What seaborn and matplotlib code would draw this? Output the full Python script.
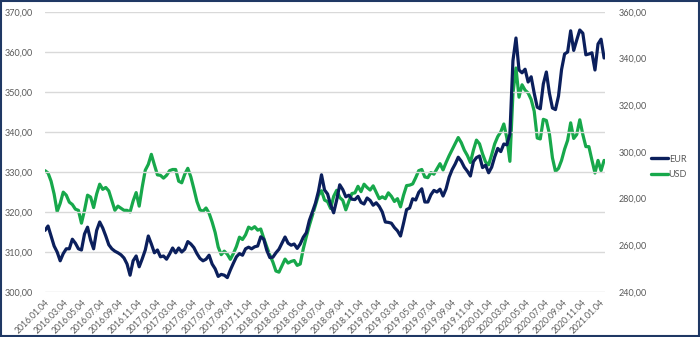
import numpy as np
import pandas as pd
import matplotlib
matplotlib.use("Agg")
import matplotlib.pyplot as plt
import matplotlib.patches as mpatches
from matplotlib.lines import Line2D
from matplotlib.ticker import FuncFormatter, MultipleLocator
import seaborn as sns

# Ten-day observations starting 2016-01-04
start_date = "2016-01-04"
n_obs = 185

eur = [
    315.4, 316.5, 314.0, 311.5, 310.0, 307.8, 309.6, 310.8, 310.8, 313.2,
    312.2, 310.8, 310.5, 314.5, 316.2, 313.0, 310.8, 315.4, 317.5, 316.0,
    314.0, 311.8, 310.8, 310.2, 309.8, 309.3, 308.5, 307.0, 304.2, 307.8,
    309.0, 306.3, 308.3, 310.5, 314.0, 312.0, 309.8, 310.5, 308.8, 309.0,
    308.2, 309.5, 311.0, 309.8, 311.0, 310.0, 310.7, 312.6, 312.0, 311.1,
    309.6, 308.4, 307.8, 308.2, 309.2, 307.0, 305.8, 303.9, 304.4, 304.2,
    303.6, 305.5, 307.2, 308.8, 309.6, 309.2, 310.8, 311.2, 310.8, 311.3,
    311.5, 313.8, 313.2, 310.4, 308.6, 308.7, 309.8, 310.7, 312.2, 313.75,
    312.2, 311.7, 312.0, 310.9, 312.0, 313.7, 314.8, 317.9, 320.0, 322.2,
    325.2, 329.3, 325.5, 324.5, 321.8, 319.8, 323.0, 326.8, 325.6, 323.8,
    324.2, 323.2, 323.1, 323.9, 322.4, 322.0, 323.5, 322.9, 321.7, 322.3,
    321.4, 320.0, 317.5, 317.4, 317.2, 316.1, 315.3, 314.0, 317.2, 320.6,
    321.0, 323.3, 323.0, 324.9, 325.8, 322.5, 322.5, 324.3, 325.4, 325.0,
    325.7, 324.0, 325.8, 328.7, 330.6, 332.0, 333.7, 332.7, 331.2, 330.2,
    329.0, 332.6, 333.6, 334.0, 331.1, 331.7, 329.8, 331.2, 333.8, 335.9,
    335.1, 337.0, 336.8, 339.5, 357.8, 363.5, 355.5, 354.8, 355.7, 352.5,
    353.8, 349.7, 346.2, 345.8, 352.0, 355.0, 349.7, 346.0, 345.6, 349.0,
    355.6, 359.5, 360.0, 365.3, 360.4, 363.0, 365.5, 364.7, 359.3, 359.5,
    359.8, 355.5, 362.0, 363.2, 358.5,
]

usd = [
    292.0, 291.0, 287.5, 282.0, 274.5, 278.0, 282.8, 281.5, 278.5, 277.5,
    275.5, 275.0, 269.5, 275.0, 281.5, 280.7, 276.2, 282.0, 286.2, 284.0,
    284.8, 283.3, 279.1, 275.0, 276.8, 275.9, 275.0, 275.0, 274.3, 279.0,
    282.6, 276.8, 285.0, 292.2, 294.7, 299.0, 294.5, 290.2, 290.0, 288.8,
    290.0, 292.0, 292.5, 292.5, 287.5, 286.8, 290.5, 293.0, 289.3, 284.2,
    278.8, 275.2, 274.6, 276.0, 273.8, 270.0, 265.5, 259.3, 256.0, 257.5,
    256.2, 254.0, 256.5, 259.5, 263.5, 262.5, 264.5, 267.8, 267.0, 268.0,
    266.5, 267.0, 263.0, 259.3, 255.8, 252.8, 249.0, 248.5, 251.3, 254.1,
    252.4, 253.1, 253.5, 251.4, 252.0, 258.5, 263.7, 268.5, 272.8, 277.0,
    281.5, 283.4, 279.4, 278.7, 275.8, 281.0, 283.6, 280.5, 279.3, 275.2,
    278.8, 282.2, 282.5, 285.3, 283.0, 286.2, 284.8, 283.7, 285.5, 282.8,
    280.0, 280.8, 280.0, 282.5, 281.0, 278.8, 280.0, 276.5, 281.5, 285.6,
    285.8, 286.3, 289.0, 292.0, 292.5, 289.3, 289.0, 291.2, 290.5, 292.8,
    295.0, 292.3, 295.5, 298.4, 301.0, 303.7, 306.2, 304.0, 300.8, 298.5,
    295.5, 300.8, 305.1, 303.5, 299.2, 295.7, 294.5, 298.8, 303.5, 306.6,
    308.6, 312.0, 306.0, 296.0, 325.0, 336.0, 323.5, 328.8, 326.5, 325.3,
    322.5, 317.5, 306.0, 305.6, 314.0, 313.5, 307.8, 297.5, 291.7, 293.0,
    296.4, 301.2, 305.0, 312.5, 305.8, 307.5, 313.8, 307.5, 302.3, 302.3,
    296.5, 291.0, 296.4, 292.0, 296.4,
]

eur_range = (300, 370)
usd_range = (240, 360)
eur_color = "#0b1f5c"
usd_color = "#17a84b"
grid_color = "#d9d9d9"
text_color = "#595959"

dates = pd.date_range(start_date, periods=n_obs, freq="10D")
df = pd.DataFrame({"date": dates, "EUR": eur, "USD": usd})

sns.set_style("white")
plt.rcParams["font.family"] = ["Lato", "DejaVu Sans"]

fig = plt.figure(figsize=(7.0, 3.37), dpi=100)
W, H = 700, 337
ax = fig.add_axes([45 / W, 1 - 292 / H, 560 / W, 280 / H])
ax2 = ax.twinx()

sns.lineplot(data=df, x="date", y="EUR", ax=ax, color=eur_color,
             linewidth=2.3, legend=False)
sns.lineplot(data=df, x="date", y="USD", ax=ax2, color=usd_color,
             linewidth=2.3, legend=False)

ax.set_ylim(*eur_range)
ax2.set_ylim(*usd_range)
ax.yaxis.set_major_locator(MultipleLocator(10))
ax2.yaxis.set_major_locator(MultipleLocator(20))

comma = FuncFormatter(lambda v, _: f"{v:.2f}".replace(".", ","))
ax.yaxis.set_major_formatter(comma)
ax2.yaxis.set_major_formatter(comma)

ax.set_xlim(pd.Timestamp(start_date), pd.Timestamp("2021-01-20"))
ticks = pd.date_range("2016-01-01", "2021-01-01", freq="2MS") + pd.Timedelta(days=3)
ax.set_xticks(ticks)
ax.set_xticklabels([t.strftime("%Y.%m.%d") for t in ticks], rotation=45,
                   ha="right", va="top", rotation_mode="anchor")

ax.grid(axis="y", color=grid_color, linewidth=1.0)
ax.set_axisbelow(True)
for a in (ax, ax2):
    for s in a.spines.values():
        s.set_visible(False)
    a.set_xlabel("")
    a.set_ylabel("")
    a.tick_params(length=0, labelsize=6.5, colors=text_color)
ax.tick_params(axis="y", pad=9)
ax2.tick_params(axis="y", pad=10)
ax.tick_params(axis="x", pad=4, labelsize=6.2)
ax.set_zorder(ax2.get_zorder() + 1)
ax.patch.set_visible(False)

handles = [Line2D([], [], color=eur_color, linewidth=2.4),
           Line2D([], [], color=usd_color, linewidth=2.4)]
fig.legend(handles, ["EUR", "USD"], loc="center left",
           bbox_to_anchor=(647 / W, 1 - 167 / H), frameon=False,
           fontsize=6.5, labelcolor=text_color, handlelength=1.9,
           handletextpad=0.1, labelspacing=0.75, borderaxespad=0)

fig.patches.append(mpatches.Rectangle((0.001, 0.002), 0.997, 0.995,
                                      transform=fig.transFigure, fill=False,
                                      edgecolor="#1f3864", linewidth=1.5))

fig.savefig("out.png", dpi=100, facecolor="white")
